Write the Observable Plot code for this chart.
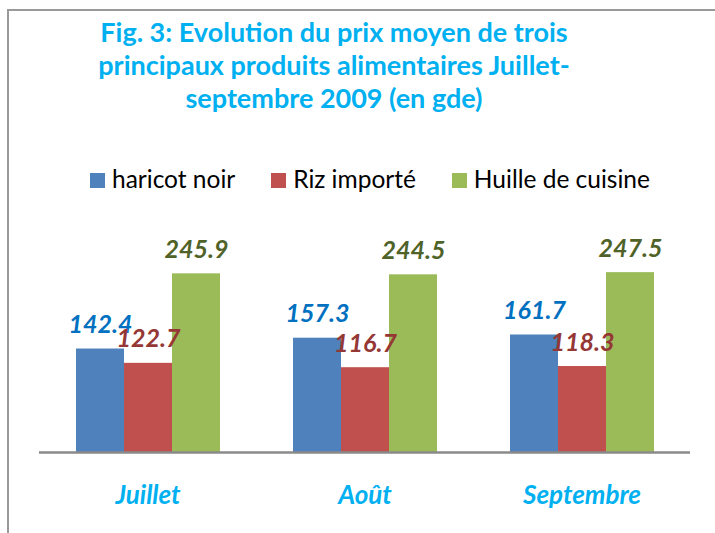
<!DOCTYPE html>
<html><head><meta charset="utf-8">
<script src="https://cdn.jsdelivr.net/npm/d3@7"></script>
<script src="https://cdn.jsdelivr.net/npm/@observablehq/plot@0.6"></script>
<style>
body{margin:0;background:#fff;}
#wrap{position:relative;width:715px;height:533px;overflow:hidden;font-family:Lato,sans-serif;}
#frame{position:absolute;left:7px;top:9px;width:800px;height:600px;border-left:2px solid #9a9a9a;border-top:2px solid #9a9a9a;}
#title{position:absolute;left:34px;top:15px;width:600px;text-align:center;color:#00B0F0;font-weight:bold;font-size:27px;line-height:33px;}
#legend{position:absolute;left:90px;top:164px;font-size:24.5px;color:#000;white-space:nowrap;}
#legend span.it{display:inline-block;margin-right:36px;}
#legend i{display:inline-block;width:15px;height:15px;margin-right:7px;vertical-align:0px;}
#chart{position:absolute;left:0;top:190px;}
#chart svg{overflow:visible;}
</style></head>
<body><div id="wrap"><div id="frame"></div>
<div id="title">Fig. 3: Evolution du prix moyen de trois<br>principaux produits alimentaires Juillet-<br>septembre 2009 (en gde)</div>
<div id="legend"></div>
<div id="chart"></div></div>
<script>
const months = ["Juillet", "Août", "Septembre"];
const series = ["haricot noir", "Riz importé", "Huille de cuisine"];
const haricot = [142.4, 157.3, 161.7];
const riz = [122.7, 116.7, 118.3];
const huile = [245.9, 244.5, 247.5];
const barColors = ["#4F81BD", "#C0504D", "#9BBB59"];
const labelColors = ["#0070C0", "#953735", "#4F6228"];

const values = [haricot, riz, huile];
const data = [];
months.forEach((m, i) => series.forEach((s, j) => data.push({month: m, series: s, value: values[j][i]})));

const legend = document.getElementById("legend");
series.forEach((s, j) => {
  const sp = document.createElement("span");
  sp.className = "it";
  sp.innerHTML = `<i style="background:${barColors[j]}"></i>${s}`;
  legend.appendChild(sp);
});

const fontFam = "Lato, sans-serif";
const marks = [
  Plot.barY(data, {fx: "month", x: "series", y: "value", fill: "series"}),
  Plot.ruleY([0], {stroke: "#8a8a8a", strokeWidth: 2.5}),
  ...series.map((s, j) => Plot.text(data.filter(d => d.series === s), {
    fx: "month", x: "series", y: "value", text: d => d.value.toFixed(1),
    fill: labelColors[j], lineAnchor: "bottom", dy: -16,
    fontSize: 25, fontWeight: "bold", fontStyle: "italic", fontFamily: fontFam
  })),
  Plot.axisFx({anchor: "bottom", tickSize: 0, tickPadding: 33, label: null,
    fontSize: 26, fontWeight: "bold", fontStyle: "italic", fontFamily: fontFam, fill: "#00B0F0"})
];

const chart = Plot.plot({
  width: 715, height: 330,
  marginLeft: 38, marginRight: 25, marginTop: 44, marginBottom: 68,
  style: {fontFamily: fontFam, background: "transparent"},
  fx: {domain: months, padding: 0, label: null},
  x: {domain: series, paddingInner: 0, paddingOuter: 0.76, axis: null},
  y: {domain: [0, 300], axis: null},
  color: {domain: series, range: barColors},
  marks
});
document.getElementById("chart").appendChild(chart);
</script></body></html>
